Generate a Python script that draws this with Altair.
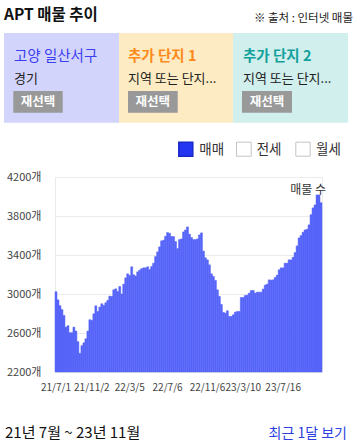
import altair as alt
import pandas as pd

F = "Noto Sans CJK KR"

# ---- data ----
values_a = [3023, 2940, 2880, 2840, 2780, 2660, 2675, 2603, 2603, 2660, 2620, 2511, 2391, 2470, 2500,
            2541, 2620, 2736, 2730, 2797, 2879, 2820, 2866, 2900, 2883, 2910, 2935, 2978, 2975, 3043,
            3053, 3025, 3077, 3000, 3101, 3166, 3207, 3190, 3279, 3197, 3185, 3227, 3245, 3260, 3268]
values_b = [3268, 3279, 3251, 3282, 3316, 3384, 3432, 3483, 3545, 3552, 3592, 3630, 3623, 3589, 3589,
            3538, 3466, 3558, 3565, 3637, 3657, 3688, 3613, 3579, 3558, 3558, 3565, 3606, 3627, 3440,
            3371, 3350, 3299, 3207, 3180, 3139, 3043, 2975, 2893, 2811, 2804, 2828, 2770, 2770, 2787]
values_c = [2814, 2821, 2821, 2964, 2964, 2985, 2988, 3009, 3036, 3036, 3009, 3019, 3019, 3019, 3050,
            3091, 3101, 3145, 3142, 3145, 3169, 3193, 3248, 3268, 3268, 3316, 3316, 3350, 3350, 3377,
            3425, 3493, 3575, 3599, 3633, 3657, 3664, 3709, 3814, 3883, 3913, 4016, 4016, 3937]
counts = values_a + values_b + values_c

tick_idx = [0, 18, 37, 56, 76, 94, 114]
tick_labels = ["21/7/1", "21/11/2", "22/3/5", "22/7/6", "22/11/6", "23/3/10", "23/7/16"]
y_ticks = [2200, 2600, 3000, 3400, 3800, 4200]

df = pd.DataFrame({"i": list(range(len(counts))), "v": counts})
one = pd.DataFrame({"d": [0]})

OX, OY = 55, 177

label_expr = ("[" + ",".join("'%s'" % s for s in tick_labels) + "][indexof(["
              + ",".join(str(i) for i in tick_idx) + "], datum.value)]")

bars = alt.Chart(df).mark_bar(color="#5664f8", stroke="#5664f8", strokeWidth=0.5).encode(
    x=alt.X("i:O", scale=alt.Scale(paddingInner=0, paddingOuter=0),
            axis=alt.Axis(values=tick_idx, labelExpr=label_expr, labelAngle=0, ticks=False,
                          domain=False, labelPadding=10, labelFontSize=10, labelColor="#444",
                          labelFont=F, title=None, labelOverlap=False, grid=False)),
    y=alt.Y("v:Q", scale=alt.Scale(domain=[2200, 4200], zero=False, nice=False, clamp=True),
            axis=alt.Axis(values=y_ticks, labelExpr="datum.value + '개'", grid=True,
                          gridColor="#ebebeb", ticks=False, domain=False, labelPadding=14,
                          labelFontSize=11, labelColor="#444", labelFont=F, title=None)),
    y2=alt.datum(2200),
)


def txt(s, x, y, size, color, weight="normal", align="left", baseline="alphabetic"):
    return alt.Chart(one).mark_text(text=s, fontSize=size, color=color, fontWeight=weight,
                                    align=align, baseline=baseline, font=F).encode(
        x=alt.value(x - OX), y=alt.value(y - OY))


def box(x1, y1, x2, y2, fill, stroke=None, sw=1):
    kw = dict(fill=fill)
    if stroke:
        kw.update(stroke=stroke, strokeWidth=sw)
    return alt.Chart(one).mark_rect(**kw).encode(
        x=alt.value(x1 - OX), x2=alt.value(x2 - OX), y=alt.value(y1 - OY), y2=alt.value(y2 - OY))


decos = [
    txt("APT 매물 추이", 4, 19.5, 15.5, "#111", weight="bold"),
    txt("※ 출처 : 인터넷 매물", 353, 21.5, 11.5, "#222", align="right"),
    box(4, 33, 119, 122.7, "#d3d4fb"),
    box(119, 33, 233, 122.7, "#fdecc3"),
    box(233, 33, 348, 122.7, "#d1efed"),
    txt("고양 일산서구", 14, 60.5, 14.5, "#3b3ff2"),
    txt("추가 단지 1", 128, 60.5, 14.5, "#ff8a1c", weight="bold"),
    txt("추가 단지 2", 243, 60.5, 14.5, "#13a19c", weight="bold"),
    txt("경기", 14, 82.5, 13, "#222"),
    txt("지역 또는 단지...", 128, 82.5, 13, "#222"),
    txt("지역 또는 단지...", 243, 82.5, 13, "#222"),
    box(13.3, 91, 62.7, 112.7, "#999999"),
    box(128, 91, 177.7, 112.7, "#999999"),
    box(242, 91, 292, 112.7, "#999999"),
    txt("재선택", 38, 102, 12.5, "white", weight="bold", align="center", baseline="middle"),
    txt("재선택", 152.8, 102, 12.5, "white", weight="bold", align="center", baseline="middle"),
    txt("재선택", 267, 102, 12.5, "white", weight="bold", align="center", baseline="middle"),
    box(178.8, 142.2, 192.8, 156.2, "#2536f2", stroke="#1a28c8", sw=1.5),
    box(236.5, 142.2, 251.2, 156.2, "white", stroke="#c4c4c4", sw=1),
    box(295.8, 142.2, 310.2, 156.2, "white", stroke="#c4c4c4", sw=1),
    txt("매매", 199.3, 149.5, 13.5, "#333", baseline="middle"),
    txt("전세", 256.7, 149.5, 13.5, "#333", baseline="middle"),
    txt("월세", 316, 149.5, 13.5, "#333", baseline="middle"),
    txt("매물 수", 326, 194, 12, "#333", align="right"),
    txt("21년 7월 ~ 23년 11월", 5, 437.5, 15, "#111"),
    txt("최근 1달 보기", 347, 437.5, 14, "#2b3fe0", align="right"),
]

chart = alt.layer(bars, *decos).properties(
    width=267, height=195,
    padding={"left": 55, "top": 177, "right": 34, "bottom": 74},
    autosize=alt.AutoSizeParams(type="none"),
    background="white",
).configure_view(stroke="#ebebeb", strokeWidth=1)

chart.save("out.html", embed_options={"renderer": "svg", "actions": False})
